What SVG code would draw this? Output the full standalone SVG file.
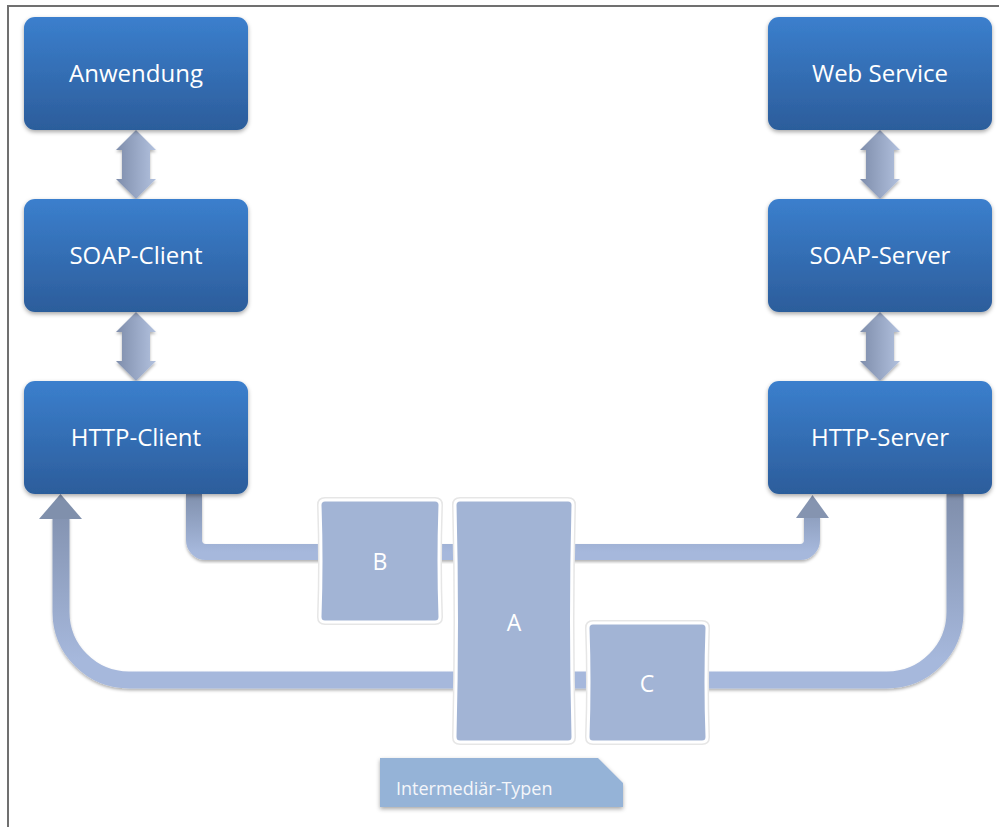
<svg xmlns="http://www.w3.org/2000/svg" width="999" height="827" viewBox="0 0 999 827">
<defs>
<linearGradient id="gNode" x1="0" y1="0" x2="0" y2="1">
<stop offset="0" stop-color="#3b7fcd"/>
<stop offset="1" stop-color="#2c5d9b"/>
</linearGradient>
<linearGradient id="gDbl" x1="0" y1="0" x2="1" y2="0">
<stop offset="0" stop-color="#7e8dab"/>
<stop offset="1" stop-color="#b2c1de"/>
</linearGradient>
<linearGradient id="gC1" gradientUnits="userSpaceOnUse" x1="0" y1="494" x2="0" y2="552">
<stop offset="0" stop-color="#8090ad"/>
<stop offset="1" stop-color="#a6b8dc"/>
</linearGradient>
<linearGradient id="gC2" gradientUnits="userSpaceOnUse" x1="0" y1="494" x2="0" y2="660">
<stop offset="0" stop-color="#7f8eab"/>
<stop offset="1" stop-color="#a6b8dc"/>
</linearGradient>
<filter id="sh" x="-10%" y="-10%" width="120%" height="130%">
<feDropShadow dx="0" dy="2" stdDeviation="2" flood-color="#000" flood-opacity="0.35"/>
</filter>
<filter id="shs" x="-10%" y="-10%" width="120%" height="130%">
<feDropShadow dx="0" dy="2" stdDeviation="1.5" flood-color="#000" flood-opacity="0.3"/>
</filter>
<path id="shapeB" d="M325,500 H435 Q440,500 440,505 Q438,561 440,617 Q440,622 435,622 H325 Q320,622 320,617 Q322,561 320,505 Q320,500 325,500 Z"/>
<path id="shapeA" d="M460,500 H568 Q573,500 573,505 Q570,621 573,737 Q573,742 568,742 H460 Q455,742 455,737 Q458,621 455,505 Q455,500 460,500 Z"/>
<path id="shapeC" d="M593,623 H702 Q707,623 707,628 Q705,682 707,737 Q707,742 702,742 H593 Q588,742 588,737 Q590,682 588,628 Q588,623 593,623 Z"/>
</defs>
<style>
.node rect{fill:url(#gNode);filter:url(#sh)}
.node text{font-family:"Open Sans","Noto Sans","Liberation Sans",sans-serif;font-size:24px;fill:#ffffff;text-anchor:middle;dominant-baseline:central}
.dbl{fill:url(#gDbl);filter:url(#shs)}
.box .fill{fill:#a2b4d5;stroke:#ffffff;stroke-width:3}
.box .halo{fill:none;stroke:#e6e6e6;stroke-width:6}
.box text{font-family:"Open Sans","Noto Sans","Liberation Sans",sans-serif;font-size:23px;fill:#ffffff;text-anchor:middle;dominant-baseline:central}
.lbl{font-family:"Open Sans","Noto Sans","Liberation Sans",sans-serif;font-size:18px;fill:#f4f6fa}
</style>
<rect width="999" height="827" fill="#ffffff"/>
<path d="M8,827 V6 H999" fill="none" stroke="#707070" stroke-width="2"/>

<g id="connectors">
<path d="M194,494 V540 A12,12 0 0 0 206,552 H800 A12,12 0 0 0 812,540 V516" fill="none" stroke="url(#gC1)" stroke-width="16" filter="url(#shs)"/>
<polygon points="796,518 829,518 812.5,495" fill="#8594b0"/>
<path d="M955,494 V612 A68,68 0 0 1 887,680 H129 A68,68 0 0 1 61,612 V517" fill="none" stroke="url(#gC2)" stroke-width="17" filter="url(#shs)"/>
<polygon points="39,519 82,519 60.5,494" fill="#8090ac"/>
<polygon class="dbl" points="136,130 156,150 150,150 150,179 156,179 136,199 116,179 122,179 122,150 116,150"/>
<polygon class="dbl" points="136,312 156,332 150,332 150,361 156,361 136,381 116,361 122,361 122,332 116,332"/>
<polygon class="dbl" points="880,130 900,150 894,150 894,179 900,179 880,199 860,179 866,179 866,150 860,150"/>
<polygon class="dbl" points="880,312 900,332 894,332 894,361 900,361 880,381 860,361 866,361 866,332 860,332"/>
</g>

<g id="anwendung" class="node"><rect x="24" y="17" width="224" height="113" rx="11"/><text x="136" y="72">Anwendung</text></g>
<g id="soap-client" class="node"><rect x="24" y="199" width="224" height="113" rx="11"/><text x="136" y="254">SOAP-Client</text></g>
<g id="http-client" class="node"><rect x="24" y="381" width="224" height="113" rx="11"/><text x="136" y="436">HTTP-Client</text></g>
<g id="web-service" class="node"><rect x="768" y="17" width="224" height="113" rx="11"/><text x="880" y="72">Web Service</text></g>
<g id="soap-server" class="node"><rect x="768" y="199" width="224" height="113" rx="11"/><text x="880" y="254">SOAP-Server</text></g>
<g id="http-server" class="node"><rect x="768" y="381" width="224" height="113" rx="11"/><text x="880" y="436">HTTP-Server</text></g>

<g id="box-b" class="box">
<use href="#shapeB" class="halo"/><use href="#shapeB" class="fill"/>
<text x="380" y="561">B</text>
</g>
<g id="box-a" class="box">
<use href="#shapeA" class="halo"/><use href="#shapeA" class="fill"/>
<text x="514" y="622">A</text>
</g>
<g id="box-c" class="box">
<use href="#shapeC" class="halo"/><use href="#shapeC" class="fill"/>
<text x="647" y="683">C</text>
</g>

<g id="intermediaer-typen">
<polygon points="380,758 598,758 623,783 623,807 380,807" fill="#95b3d7" filter="url(#sh)"/>
<text class="lbl" x="396" y="795">Intermediär-Typen</text>
</g>
</svg>
